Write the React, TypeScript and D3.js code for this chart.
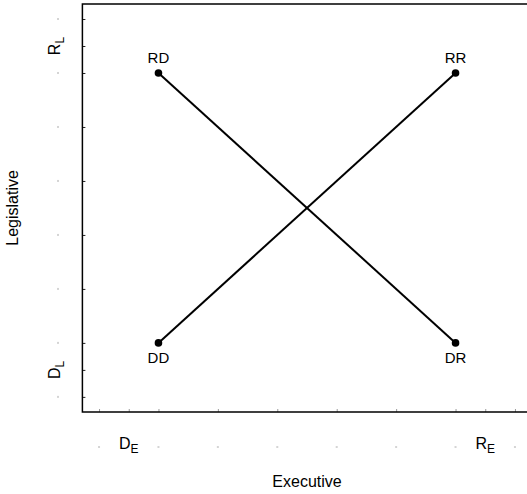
import { useEffect, useRef } from "react";
import * as d3 from "d3";

// chart values
const tickValues = [1, 2, 3, 4, 5, 6, 7, 8];
const execLabelTicks = [1.5, 7.5];
const execLabels = ["D", "R"];
const legisLabelTicks = [1.5, 7.5];
const legisLabels = ["D", "R"];
const pointNames = ["RD", "RR", "DD", "DR"];
const execValues = [2, 7, 2, 7];
const legisValues = [7, 7, 2, 2];
const segments = [
  ["RD", "DR"],
  ["DD", "RR"],
];

const App = () => {
  const svgRef = useRef<SVGSVGElement | null>(null);

  useEffect(() => {
    const width = 527;
    const height = 494;
    const svg = d3.select(svgRef.current);
    svg.selectAll("*").remove();
    svg.attr("width", width).attr("height", height);

    const x = d3.scaleLinear().domain([0.72, 8.28]).range([82.4, 531.6]);
    const y = d3.scaleLinear().domain([0.72, 8.28]).range([412, 3.9]);
    const font = "Liberation Sans, Arial, sans-serif";

    const points = pointNames.map((name, i) => ({
      name,
      ex: execValues[i],
      lg: legisValues[i],
    }));

    // tick marks (inward)
    const allTicks = [...tickValues, ...execLabelTicks].sort((a, b) => a - b);
    const xAxis = svg
      .append("g")
      .attr("transform", `translate(0,${y(0.72)})`)
      .call(d3.axisBottom(x).tickValues(allTicks).tickSize(-3).tickFormat(() => ""));
    xAxis.select(".domain").remove();
    xAxis.selectAll("line").attr("stroke", "#999");

    const yTicks = [...tickValues, ...legisLabelTicks].sort((a, b) => a - b);
    const yAxis = svg
      .append("g")
      .attr("transform", `translate(${x(0.72)},0)`)
      .call(d3.axisLeft(y).tickValues(yTicks).tickSize(-3).tickFormat(() => ""));
    yAxis.select(".domain").remove();
    yAxis.selectAll("line").attr("stroke", "#222");

    // frame: left, top, bottom
    svg
      .append("path")
      .attr("d", `M${width},${y(8.28)}H${x(0.72)}V${y(0.72)}H${width}`)
      .attr("fill", "none")
      .attr("stroke", "#000")
      .attr("stroke-width", 1.5);

    // tiny dash labels on x axis
    svg
      .selectAll(".xdash")
      .data(tickValues)
      .enter()
      .append("line")
      .attr("x1", (d) => x(d) - 1)
      .attr("x2", (d) => x(d) + 1)
      .attr("y1", 447)
      .attr("y2", 447)
      .attr("stroke", "#aaa")
      .attr("stroke-width", 1);

    // tiny dash labels on y axis (rotated)
    svg
      .selectAll(".ydash")
      .data(tickValues)
      .enter()
      .append("line")
      .attr("x1", 58)
      .attr("x2", 58)
      .attr("y1", (d) => y(d) - 1)
      .attr("y2", (d) => y(d) + 1)
      .attr("stroke", "#aaa")
      .attr("stroke-width", 1);

    // executive labels
    execLabelTicks.forEach((v, i) => {
      const t = svg
        .append("text")
        .attr("x", x(v))
        .attr("y", 449)
        .attr("text-anchor", "middle")
        .style("font-family", font)
        .style("font-size", "16px")
        .attr("fill", "#000");
      t.append("tspan").text(execLabels[i]);
      t.append("tspan").attr("dy", 4).style("font-size", "12px").text("E");
    });

    // legislative labels
    legisLabelTicks.forEach((v, i) => {
      const t = svg
        .append("text")
        .attr("transform", `translate(60,${y(v)}) rotate(-90)`)
        .attr("text-anchor", "middle")
        .style("font-family", font)
        .style("font-size", "16px")
        .attr("fill", "#000");
      t.append("tspan").text(legisLabels[i]);
      t.append("tspan").attr("dy", 4).style("font-size", "12px").text("L");
    });

    // lines
    const byName = new Map(points.map((p) => [p.name, p]));
    segments.forEach(([a, b]) => {
      const pa = byName.get(a)!;
      const pb = byName.get(b)!;
      svg
        .append("line")
        .attr("x1", x(pa.ex))
        .attr("y1", y(pa.lg))
        .attr("x2", x(pb.ex))
        .attr("y2", y(pb.lg))
        .attr("stroke", "#000")
        .attr("stroke-width", 2);
    });

    // points
    svg
      .selectAll(".pt")
      .data(points)
      .enter()
      .append("circle")
      .attr("cx", (d) => x(d.ex))
      .attr("cy", (d) => y(d.lg))
      .attr("r", 3.8)
      .attr("fill", "#000");

    // point labels
    svg
      .selectAll(".ptlabel")
      .data(points)
      .enter()
      .append("text")
      .attr("x", (d) => x(d.ex))
      .attr("y", (d) => (d.lg > 4 ? y(d.lg) - 10 : y(d.lg) + 20))
      .attr("text-anchor", "middle")
      .style("font-family", font)
      .style("font-size", "15px")
      .attr("fill", "#000")
      .text((d) => d.name);

    // axis titles
    svg
      .append("text")
      .attr("x", (x(0.72) + x(8.28)) / 2)
      .attr("y", 487)
      .attr("text-anchor", "middle")
      .style("font-family", font)
      .style("font-size", "16px")
      .text("Executive");

    svg
      .append("text")
      .attr("transform", `translate(18,${(y(0.72) + y(8.28)) / 2}) rotate(-90)`)
      .attr("text-anchor", "middle")
      .style("font-family", font)
      .style("font-size", "16px")
      .text("Legislative");
  }, []);

  return (
    <svg
      ref={svgRef}
      style={{ position: "absolute", left: 0, top: 0, display: "block" }}
    />
  );
};

export default App;
